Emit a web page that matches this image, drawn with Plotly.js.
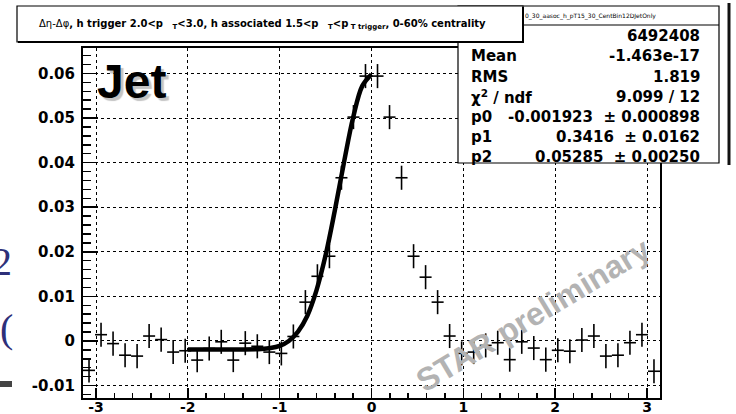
<!DOCTYPE html>
<html>
<head>
<meta charset="utf-8">
<script src="https://cdn.plot.ly/plotly-3.0.1.min.js"></script>
<style>
html,body{margin:0;padding:0;background:#fff;}
#chart{width:736px;height:414px;}
</style>
</head>
<body>
<div id="chart"></div>
<script>
// ---- data ----
const binCenters = [-3.0761,-2.9452,-2.8143,-2.6834,-2.5525,-2.4216,-2.2907,-2.1598,-2.0289,-1.8980,-1.7671,-1.6362,
  -1.5053,-1.3744,-1.2435,-1.1126,-0.9817,-0.8508,-0.7199,-0.5890,-0.4581,-0.3272,-0.1963,-0.0654,
  0.0654,0.1963,0.3272,0.4581,0.5890,0.7199,0.8508,0.9817,1.1126,1.2435,1.3744,1.5053,
  1.6362,1.7671,1.8980,2.0289,2.1598,2.2907,2.4216,2.5525,2.6834,2.8143,2.9452,3.0761];
const binValues = [-0.0066,0.0014,-0.0006,-0.0032,-0.0034,0.0011,0.0003,-0.0025,-0.0022,-0.0043,-0.0017,-0.0002,
  -0.0043,-0.0005,-0.0012,-0.0025,-0.0028,0.0010,0.0087,0.0145,0.0190,0.0366,0.0502,0.0594,
  0.0594,0.0502,0.0366,0.0190,0.0143,0.0087,0.0011,-0.0028,-0.0025,-0.0010,-0.0004,-0.0042,
  -0.0002,-0.0016,-0.0042,-0.0021,-0.0023,0.0002,0.0011,-0.0034,-0.0032,-0.0004,0.0014,-0.0068];
const binHalfWidth = 0.0654;
const binError = 0.0027;

const fitX = [-2.0,-1.8,-1.6,-1.4,-1.2,-1.1,-1.0,-0.9,-0.8,-0.7,-0.6,-0.5,-0.4,-0.3,-0.2,-0.1,0.0];
const fitY = [-0.0019,-0.0019,-0.0019,-0.0019,-0.0018,-0.0016,-0.0011,0.0000,0.0021,0.0056,0.0113,0.0192,0.0292,0.0400,0.0501,0.0572,0.0598];

const xTickVals = [-3,-2,-1,0,1,2,3];
const xTickText = ['-3','-2','-1','0','1','2','3'];
const yTickVals = [-0.01,0,0.01,0.02,0.03,0.04,0.05,0.06];
const yTickText = ['-0.01','0','0.01','0.02','0.03','0.04','0.05','0.06'];

const statLabels = ['', 'Mean', 'RMS', 'χ<sup>2</sup> / ndf', 'p0', 'p1', 'p2'];
const statValues = ['6492408', '-1.463e-17', '1.819', '9.099 / 12', '-0.001923  ± 0.000898', '0.3416  ± 0.0162', '0.05285  ± 0.00250'];
const statHeader = '0_30_aasoc_h_pT15_30_CentBin12DJetOnly';
const titleText = 'Δη-Δφ<b>, h trigger 2.0&lt;p</b>\u00a0\u00a0\u00a0<sub><b>T</b></sub><b>&lt;3.0, h associated 1.5&lt;p</b>\u00a0\u00a0\u00a0<sub><b>T</b></sub><b>&lt;p</b><sub><b> T trigger</b></sub><b>, 0-60% centrality</b>';

// ---- layout helpers (pixel -> paper) ----
const L = 83, R = 660, T = 48, B = 398;
const W = 736, H = 414;
const px = p => (p - L) / (R - L);
const py = p => (B - p) / (B - T);

const ROOTFONT = 'DejaVu Sans';

const traces = [
  {
    type: 'scatter', mode: 'markers',
    x: binCenters, y: binValues,
    marker: {size: 1, color: 'rgba(0,0,0,0)'},
    error_y: {type: 'constant', value: binError, color: '#000', thickness: 1.6, width: 0},
    error_x: {type: 'constant', value: binHalfWidth, color: '#000', thickness: 1.6, width: 0},
    hoverinfo: 'skip', showlegend: false
  },
  {
    type: 'scatter', mode: 'lines',
    x: fitX, y: fitY,
    line: {color: '#000', width: 4.5, shape: 'spline'},
    hoverinfo: 'skip', showlegend: false
  }
];

const shapes = [];
const annotations = [];

// stats box
shapes.push({type: 'rect', xref: 'paper', yref: 'paper', x0: px(458), x1: px(719), y0: py(6), y1: py(163),
  fillcolor: '#fff', line: {color: '#000', width: 1.2}, layer: 'above'});
shapes.push({type: 'line', xref: 'paper', yref: 'paper', x0: px(458), x1: px(719), y0: py(25), y1: py(25),
  line: {color: '#000', width: 1.2}, layer: 'above'});
shapes.push({type: 'line', xref: 'paper', yref: 'paper', x0: px(729), x1: px(729), y0: py(3), y1: py(165),
  line: {color: '#111', width: 3}, layer: 'above'});
// title box
shapes.push({type: 'rect', xref: 'paper', yref: 'paper', x0: px(17), x1: px(523), y0: py(6), y1: py(42),
  fillcolor: '#fff', line: {color: '#000', width: 1.2}, layer: 'above'});
shapes.push({type: 'line', xref: 'paper', yref: 'paper', x0: px(18), x1: px(524), y0: py(42), y1: py(42),
  line: {color: '#000', width: 2}, layer: 'above'});
shapes.push({type: 'line', xref: 'paper', yref: 'paper', x0: px(523), x1: px(523), y0: py(7), y1: py(42),
  line: {color: '#000', width: 2}, layer: 'above'});
// slide remnant bar on the left
shapes.push({type: 'rect', xref: 'paper', yref: 'paper', x0: px(0), x1: px(12), y0: py(381), y1: py(387),
  fillcolor: '#444', line: {width: 0}, layer: 'above'});

// title text
annotations.push({xref: 'paper', yref: 'paper', x: px(262), y: py(24), xanchor: 'center', yanchor: 'middle',
  text: titleText, showarrow: false, font: {family: ROOTFONT, size: 10, color: '#000'}});

// stats header
annotations.push({xref: 'paper', yref: 'paper', x: px(523), y: py(15.5), xanchor: 'left', yanchor: 'middle',
  text: statHeader, showarrow: false, font: {family: ROOTFONT, size: 6, color: '#000'}});

const rowTop = 25, rowH = (163 - 25) / statLabels.length;
statLabels.forEach((lab, i) => {
  const yc = rowTop + rowH * (i + 0.5) + 1.5 + i * 0.4;
  if (lab) annotations.push({xref: 'paper', yref: 'paper', x: px(469), y: py(yc), xanchor: 'left', yanchor: 'middle',
    text: lab, showarrow: false, font: {family: ROOTFONT, size: 15, weight: 'bold', color: '#000'}});
  annotations.push({xref: 'paper', yref: 'paper', x: px(702), y: py(yc), xanchor: 'right', yanchor: 'middle',
    text: statValues[i].replace(/ /g, '\u00a0'), showarrow: false, font: {family: ROOTFONT, size: 15, weight: 'bold', color: '#000'}});
});

// Jet label with drop shadow
annotations.push({xref: 'paper', yref: 'paper', x: px(95), y: py(81), xanchor: 'left', yanchor: 'middle',
  text: 'Jet', showarrow: false,
  font: {family: 'Liberation Sans', size: 48, weight: 'bold', color: '#000', shadow: '3px 3px 1px #c4c4c4'}});

// STAR preliminary watermark
annotations.push({xref: 'paper', yref: 'paper', x: px(533), y: py(315), xanchor: 'center', yanchor: 'middle',
  text: 'STAR preliminary', textangle: -31, showarrow: false,
  font: {family: 'Liberation Sans', size: 32, weight: 'bold', color: '#b3b3b3'}});

// slide remnant glyphs on the left
annotations.push({xref: 'paper', yref: 'paper', x: px(14), y: py(261), xanchor: 'right', yanchor: 'middle',
  text: '2', showarrow: false, font: {family: 'Liberation Serif', size: 40, color: '#2e3079'}});
annotations.push({xref: 'paper', yref: 'paper', x: px(15), y: py(328), xanchor: 'right', yanchor: 'middle',
  text: '7(', showarrow: false, font: {family: 'Liberation Serif', size: 40, color: '#2e3079'}});

const axisCommon = {
  showline: true, linecolor: '#000', linewidth: 2, mirror: true,
  zeroline: false, showgrid: true, gridcolor: '#000', gridwidth: 1, griddash: 'dot',
  ticks: 'inside', tickcolor: '#000', tickwidth: 1.5,
  tickfont: {family: ROOTFONT, size: 15, weight: 'bold', color: '#000'},
  tickmode: 'array', fixedrange: true
};

const layout = {
  width: W, height: H,
  margin: {l: L, r: W - R, t: T, b: H - B, pad: 0},
  paper_bgcolor: '#fff', plot_bgcolor: '#fff',
  showlegend: false,
  xaxis: Object.assign({}, axisCommon, {
    range: [-3.1416, 3.1416], tickvals: xTickVals, ticktext: xTickText, ticklen: 10, ticklabelstandoff: -5,
    tickfont: {family: ROOTFONT, size: 14, weight: 'bold', color: '#000'},
    minor: {tickmode: 'linear', tick0: 0, dtick: 0.2, ticks: 'inside', ticklen: 5, tickcolor: '#000', tickwidth: 1.5, showgrid: false}
  }),
  yaxis: Object.assign({}, axisCommon, {
    range: [-0.0128, 0.0657], tickvals: yTickVals, ticktext: yTickText, ticklen: 15, ticklabelstandoff: 3,
    minor: {tickmode: 'linear', tick0: 0, dtick: 0.002, ticks: 'inside', ticklen: 8, tickcolor: '#000', tickwidth: 1.5, showgrid: false}
  }),
  shapes: shapes,
  annotations: annotations
};

Plotly.newPlot('chart', traces, layout, {staticPlot: true, displayModeBar: false});
</script>
</body>
</html>
